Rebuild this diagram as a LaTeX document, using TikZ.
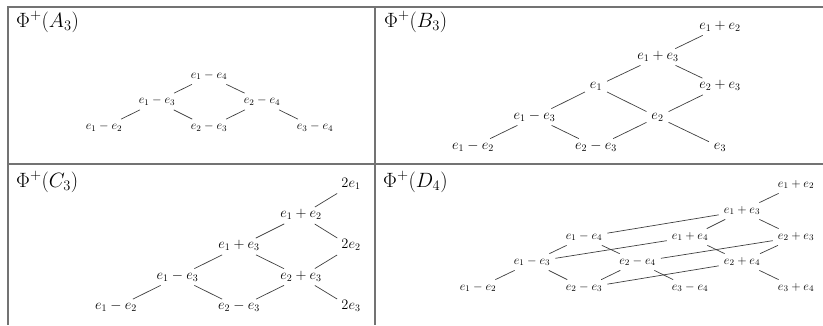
\RequirePackage{fix-cm}
\documentclass[tikz,border=0pt]{standalone}
\begin{document}
\begin{tikzpicture}[x=1pt,y=-1pt,
  rt/.style={inner sep=3.5pt, text height=0.6em, text depth=0.2em},
  big/.style={rt, font=\fontsize{14.4}{17}\selectfont},
  sml/.style={rt, font=\fontsize{12.3}{15}\selectfont},
  ttl/.style={anchor=base west, inner sep=0pt, font=\fontsize{20.7}{24}\selectfont},
  edge/.style={draw=black!75, line width=0.7pt, shorten <=1.5pt, shorten >=1.5pt},
  frame/.style={draw=black!55, line width=1.2pt}]
\useasboundingbox (0,0) rectangle (823,325);
% table frame
\draw[frame] (823,7) -- (8,7) -- (8,325);
\draw[frame] (375,7) -- (375,325);
\draw[frame] (8,164) -- (823,164);
% titles
\node[ttl] (tA) at (16,27) {$\Phi^+(A_3)$};
\node[ttl] (tB) at (384,27) {$\Phi^+(B_3)$};
\node[ttl] (tC) at (16,187) {$\Phi^+(C_3)$};
\node[ttl] (tD) at (383,187) {$\Phi^+(D_4)$};
% A3
\begin{scope}[every node/.style={sml}]
\node (a12) at (104,127.5) {$e_1-e_2$};
\node (a23) at (209,127.5) {$e_2-e_3$};
\node (a34) at (315,127.5) {$e_3-e_4$};
\node (a13) at (157,101.5) {$e_1-e_3$};
\node (a24) at (262,101.5) {$e_2-e_4$};
\node (a14) at (209,76) {$e_1-e_4$};
\end{scope}
\draw[edge] (a12) -- (a13);
\draw[edge] (a13) -- (a23);
\draw[edge] (a23) -- (a24);
\draw[edge] (a24) -- (a34);
\draw[edge] (a13) -- (a14);
\draw[edge] (a14) -- (a24);
% B3
\begin{scope}[every node/.style={big}]
\node (b12) at (473,147) {$e_1-e_2$};
\node (b23) at (596,147) {$e_2-e_3$};
\node (b3) at (720,147) {$e_3$};
\node (b13) at (534.5,117) {$e_1-e_3$};
\node (b2) at (657.5,117) {$e_2$};
\node (b1) at (596,86.5) {$e_1$};
\node (bp23) at (720,86.5) {$e_2+e_3$};
\node (bp13) at (658,57) {$e_1+e_3$};
\node (bp12) at (720,27) {$e_1+e_2$};
\end{scope}
\draw[edge] (b12) -- (b13);
\draw[edge] (b13) -- (b23);
\draw[edge] (b13) -- (b1);
\draw[edge] (b23) -- (b2);
\draw[edge] (b1) -- (b2);
\draw[edge] (b2) -- (b3);
\draw[edge] (b1) -- (bp13);
\draw[edge] (b2) -- (bp23);
\draw[edge] (bp13) -- (bp23);
\draw[edge] (bp13) -- (bp12);
% C3
\begin{scope}[every node/.style={big}]
\node (c12) at (116,307.5) {$e_1-e_2$};
\node (c23) at (239,307.5) {$e_2-e_3$};
\node (c2e3) at (351,307.5) {$2e_3$};
\node (c13) at (177.5,277) {$e_1-e_3$};
\node (cp23) at (301,277) {$e_2+e_3$};
\node (cp13) at (239,246.5) {$e_1+e_3$};
\node (c2e2) at (351,246.5) {$2e_2$};
\node (cp12) at (301,215.5) {$e_1+e_2$};
\node (c2e1) at (351,185) {$2e_1$};
\end{scope}
\draw[edge] (c12) -- (c13);
\draw[edge] (c13) -- (c23);
\draw[edge] (c23) -- (cp23);
\draw[edge] (c13) -- (cp13);
\draw[edge] (cp13) -- (cp23);
\draw[edge] (cp23) -- (c2e3);
\draw[edge] (cp23) -- (c2e2);
\draw[edge] (cp13) -- (cp12);
\draw[edge] (cp12) -- (c2e2);
\draw[edge] (cp12) -- (c2e1);
% D4
\begin{scope}[every node/.style={sml}]
\node (d12) at (478,288) {$e_1-e_2$};
\node (d23) at (584,288) {$e_2-e_3$};
\node (d34) at (690,288) {$e_3-e_4$};
\node (dp34) at (796,288) {$e_3+e_4$};
\node (d13) at (532,262) {$e_1-e_3$};
\node (d24) at (637.5,262) {$e_2-e_4$};
\node (dp24) at (742,262) {$e_2+e_4$};
\node (d14) at (584,237) {$e_1-e_4$};
\node (dp14) at (690,237) {$e_1+e_4$};
\node (dp23) at (796,237) {$e_2+e_3$};
\node (dp13) at (742,211) {$e_1+e_3$};
\node (dp12) at (796,185) {$e_1+e_2$};
\end{scope}
\draw[edge] (d12) -- (d13);
\draw[edge] (d13) -- (d14);
\draw[edge] (d13) -- (d23);
\draw[edge] (d13) -- (dp14);
\draw[edge] (d14) -- (d24);
\draw[edge] (d14) -- (dp13);
\draw[edge] (d23) -- (d24);
\draw[edge] (d23) -- (dp24);
\draw[edge] (d24) -- (d34);
\draw[edge] (d24) -- (dp23);
\draw[edge] (dp14) -- (dp13);
\draw[edge] (dp14) -- (dp24);
\draw[edge] (dp24) -- (dp23);
\draw[edge] (dp24) -- (dp34);
\draw[edge] (dp13) -- (dp23);
\draw[edge] (dp13) -- (dp12);
\end{tikzpicture}
\end{document}
